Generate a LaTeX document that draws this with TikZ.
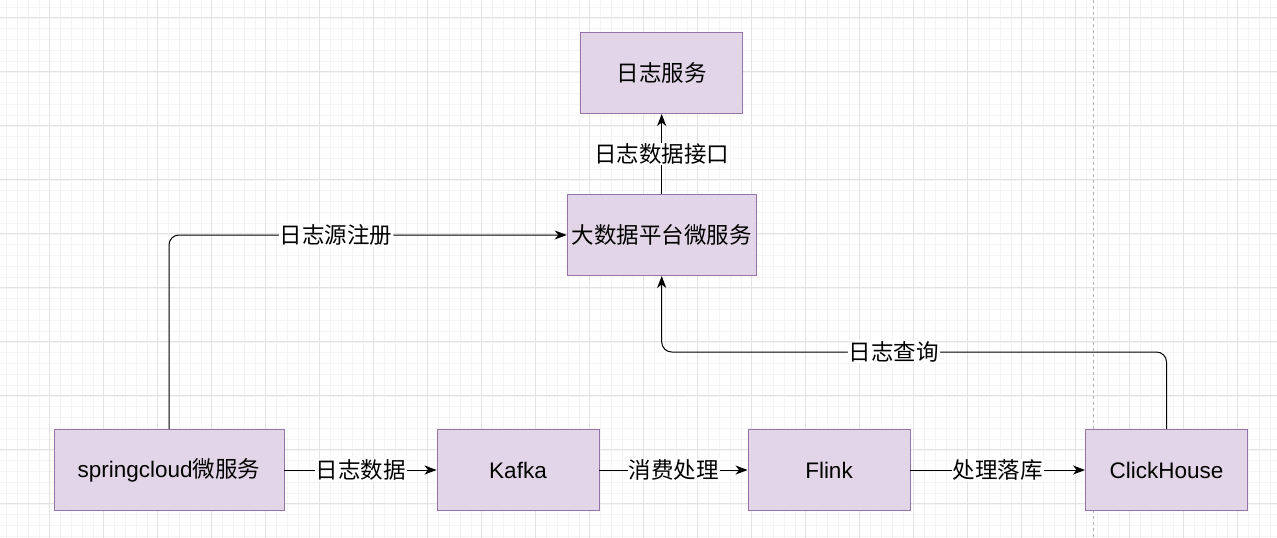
\documentclass[tikz,border=0pt]{standalone}
\usepackage{fontspec}
\setmainfont{Liberation Sans}
\newfontfamily\cjk{Noto Sans CJK SC}
\usetikzlibrary{arrows.meta,calc}
\definecolor{boxfill}{HTML}{E1D5E7}
\definecolor{boxline}{HTML}{9673A6}
\definecolor{gridminor}{HTML}{F4F4F4}
\definecolor{gridmajor}{HTML}{E3E3E3}
\begin{document}
\begin{tikzpicture}[x=1pt,y=-1pt]
		\tikzstyle{box}=[draw=boxline,fill=boxfill,line width=0.9pt,
							minimum width=162pt,minimum height=81pt,
							inner sep=1pt,font=\fontsize{22.5}{27}\selectfont]
		\tikzstyle{lbl}=[fill=white,inner sep=1pt,font=\cjk\fontsize{22.5}{27}\selectfont]
		\tikzstyle{link}=[line width=1pt,-{Stealth[length=12pt,width=9pt,inset=3.5pt]}]

		\useasboundingbox (0,0) rectangle (1277,538);

		% grid
		\begin{scope}
			\clip (0,0) rectangle (1277,538);
			\begin{scope}[shift={(49.7,17.8)}]
				\draw[gridminor,line width=0.6pt,step=10.8pt] (-54,-54) grid (1242,540);
				\draw[gridmajor,line width=0.8pt,step=54pt] (-54,-54) grid (1242,540);
			\end{scope}
			\draw[gray!60,dashed,line width=0.6pt] (1093.3,0) -- (1093.3,538);
		\end{scope}

		% top
		\node[box] (logsvc) at (661.7,73) {\cjk 日志服务};
		\node[box,minimum width=189pt] (bigdata) at (661.7,235) {\cjk 大数据平台微服务};

		% pipeline
		\node[box,minimum width=230pt] (spring) at (169,470) {springcloud{\cjk 微服务}};
		\foreach \name/\x/\txt in {kafka/518/Kafka, flink/829/Flink, ck/1166.5/ClickHouse}
			\node[box] (\name) at (\x,470) {\txt};
		\coordinate (qbend) at (661.7,352);

		% edges
		\draw[link] (bigdata) -- node[lbl] {日志数据接口} (logsvc);
		\draw[link,rounded corners=10pt] (spring.north) |- node[lbl,pos=0.71] {日志源注册} (bigdata.west);
		\draw[link,rounded corners=10pt] (ck.north) |- node[lbl,pos=0.77] {日志查询} (qbend) -- (bigdata.south);
		\draw[link] (spring) -- node[lbl] {日志数据} (kafka);
		\draw[link] (kafka) -- node[lbl] {消费处理} (flink);
		\draw[link] (flink) -- node[lbl] {处理落库} (ck);
\end{tikzpicture}
\end{document}
